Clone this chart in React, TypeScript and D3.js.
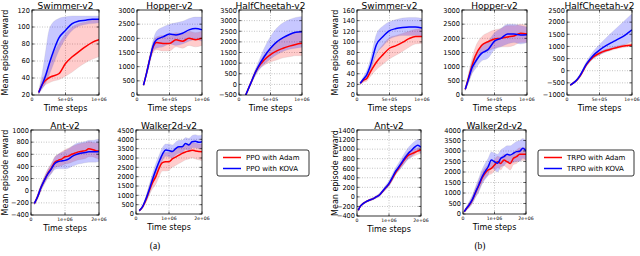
import * as d3 from "d3";
import { useEffect, useRef } from "react";

// ---- x positions (time steps) ----
const topAX = [100e3, 150e3, 200e3, 250e3, 300e3, 400e3, 500e3, 600e3, 700e3, 800e3, 900e3, 1000e3];
const topBX = [50e3, 100e3, 150e3, 200e3, 300e3, 400e3, 500e3, 600e3, 700e3, 800e3, 900e3, 1000e3];
const botAX = [100e3, 200e3, 300e3, 400e3, 500e3, 600e3, 700e3, 800e3, 900e3, 1000e3, 1100e3, 1200e3, 1300e3, 1400e3, 1500e3, 1600e3, 1700e3, 1800e3, 1900e3, 2000e3];
const botBX = [40e3, 100e3, 200e3, 300e3, 400e3, 500e3, 600e3, 700e3, 800e3, 900e3, 1000e3, 1100e3, 1200e3, 1300e3, 1400e3, 1500e3, 1600e3, 1700e3, 1800e3, 1900e3, 2000e3];

// ---- tick labels ----
const xTicks1M = [0, 5e5, 1e6];
const xTicks1MLabels = ["0", "5e+05", "1e+06"];
const xTicks2M = [0, 1e6, 2e6];
const xTicks2MLabels = ["0", "1e+06", "2e+06"];

// ---- (a) PPO ----
const swimmerA_adam = [23, 32, 37, 40, 42, 45, 57, 65, 71, 77, 82, 85];
const swimmerA_adamLo = [21, 28, 32, 34, 36, 38, 42, 47, 53, 58, 62, 65];
const swimmerA_adamHi = [25, 37, 45, 55, 65, 80, 92, 100, 104, 106, 108, 109];
const swimmerA_kova = [23, 32, 42, 55, 67, 87, 96, 104, 107, 108, 109, 109];
const swimmerA_kovaLo = [21, 27, 33, 42, 52, 72, 86, 96, 101, 103, 104, 105];
const swimmerA_kovaHi = [25, 45, 70, 95, 104, 110, 112, 113, 113, 113, 113, 113];
const swimmerA_yTicks = [20, 40, 60, 80, 100, 120];

const hopperA_adam = [350, 800, 1300, 1700, 1850, 1820, 1820, 1950, 1900, 2000, 1950, 2000];
const hopperA_adamLo = [320, 720, 1200, 1500, 1600, 1550, 1550, 1700, 1650, 1750, 1700, 1750];
const hopperA_adamHi = [380, 880, 1400, 1850, 2050, 2100, 2100, 2200, 2150, 2250, 2200, 2250];
const hopperA_kova = [350, 800, 1300, 1750, 1950, 2050, 2150, 2120, 2180, 2300, 2350, 2300];
const hopperA_kovaLo = [320, 700, 1150, 1550, 1650, 1700, 1800, 1750, 1800, 1900, 1950, 1900];
const hopperA_kovaHi = [380, 900, 1450, 1950, 2250, 2400, 2500, 2550, 2600, 2700, 2750, 2750];
const hopperA_yTicks = [0, 500, 1000, 1500, 2000, 2500, 3000];

const cheetahA_adam = [-550, -200, 150, 500, 780, 1150, 1400, 1580, 1700, 1800, 1880, 1930];
const cheetahA_adamLo = [-600, -250, 70, 400, 650, 900, 1050, 1150, 1250, 1300, 1350, 1350];
const cheetahA_adamHi = [-500, -150, 230, 600, 900, 1400, 1750, 2000, 2200, 2350, 2450, 2500];
const cheetahA_kova = [-550, -200, 150, 500, 800, 1300, 1700, 2000, 2200, 2350, 2450, 2480];
const cheetahA_kovaLo = [-600, -250, 50, 350, 600, 950, 1200, 1400, 1550, 1650, 1700, 1750];
const cheetahA_kovaHi = [-500, -150, 250, 650, 1000, 1700, 2250, 2650, 2900, 3050, 3150, 3200];
const cheetahA_yTicks = [-500, 0, 500, 1000, 1500, 2000, 2500, 3000, 3500];

const antA_adam = [-210, -90, 60, 180, 290, 370, 470, 500, 520, 560, 570, 600, 620, 640, 650, 660, 690, 680, 660, 650];
const antA_adamLo = [-230, -130, 10, 120, 220, 290, 380, 400, 410, 440, 450, 470, 490, 510, 520, 530, 560, 560, 540, 520];
const antA_adamHi = [-190, -50, 110, 240, 360, 450, 560, 600, 640, 680, 700, 730, 750, 770, 780, 790, 810, 800, 790, 790];
const antA_kova = [-210, -90, 60, 180, 280, 360, 450, 480, 490, 500, 520, 560, 590, 610, 620, 630, 640, 640, 640, 645];
const antA_kovaLo = [-230, -130, 10, 120, 210, 280, 350, 360, 360, 360, 370, 400, 420, 440, 450, 460, 470, 470, 470, 480];
const antA_kovaHi = [-190, -50, 110, 240, 350, 440, 550, 600, 630, 660, 690, 730, 770, 790, 800, 810, 830, 830, 840, 850];
const antA_yTicks = [-400, -200, 0, 200, 400, 600, 800, 1000];

const walkerA_adam = [180, 380, 750, 1250, 1680, 2000, 2450, 2750, 2800, 2800, 2950, 3050, 3150, 3250, 3320, 3370, 3420, 3380, 3350, 3340];
const walkerA_adamLo = [140, 300, 600, 1000, 1350, 1600, 2000, 2300, 2300, 2350, 2500, 2600, 2700, 2800, 2900, 2950, 3000, 2950, 2900, 2850];
const walkerA_adamHi = [220, 460, 900, 1500, 2000, 2400, 2900, 3200, 3300, 3300, 3400, 3500, 3600, 3650, 3700, 3750, 3800, 3800, 3750, 3750];
const walkerA_kova = [180, 400, 800, 1300, 1850, 2350, 2800, 3200, 3430, 3400, 3350, 3500, 3600, 3600, 3780, 3700, 3870, 3900, 3840, 3870];
const walkerA_kovaLo = [140, 330, 650, 1050, 1550, 2000, 2450, 2850, 3100, 3050, 3000, 3150, 3250, 3250, 3450, 3350, 3550, 3550, 3500, 3500];
const walkerA_kovaHi = [220, 480, 950, 1550, 2150, 2700, 3150, 3550, 3750, 3750, 3700, 3850, 3950, 3950, 4100, 4050, 4200, 4250, 4200, 4250];
const walkerA_yTicks = [0, 500, 1000, 1500, 2000, 2500, 3000, 3500, 4000, 4500];

// ---- (b) TRPO ----
const swimmerB_adam = [22, 28, 31, 42, 62, 76, 88, 93, 99, 106, 110, 110];
const swimmerB_adamLo = [20, 24, 26, 34, 48, 58, 68, 75, 82, 90, 96, 97];
const swimmerB_adamHi = [24, 32, 37, 50, 78, 95, 108, 112, 116, 120, 124, 125];
const swimmerB_kova = [22, 30, 38, 53, 95, 110, 121, 125, 127, 128, 128, 126];
const swimmerB_kovaLo = [20, 26, 30, 42, 78, 92, 105, 110, 112, 112, 112, 110];
const swimmerB_kovaHi = [24, 35, 46, 65, 115, 130, 138, 142, 145, 146, 146, 144];
const swimmerB_yTicks = [0, 20, 40, 60, 80, 100, 120, 140, 160];

const hopperB_adam = [200, 600, 1000, 1350, 1750, 1880, 1980, 2000, 2050, 2080, 2180, 2150];
const hopperB_adamLo = [160, 450, 750, 1050, 1450, 1550, 1650, 1700, 1700, 1750, 1850, 1850];
const hopperB_adamHi = [240, 750, 1250, 1650, 2050, 2200, 2300, 2350, 2450, 2450, 2500, 2450];
const hopperB_kova = [200, 560, 940, 1150, 1470, 1600, 1900, 2000, 2150, 2150, 2120, 2130];
const hopperB_kovaLo = [160, 420, 730, 900, 1200, 1300, 1600, 1700, 1800, 1850, 1800, 1850];
const hopperB_kovaHi = [240, 700, 1150, 1400, 1750, 1900, 2200, 2350, 2500, 2500, 2450, 2400];
const hopperB_yTicks = [0, 500, 1000, 1500, 2000, 2500, 3000];

const cheetahB_adam = [-590, -500, -390, -220, 250, 560, 720, 830, 910, 980, 1030, 1060];
const cheetahB_adamLo = [-620, -540, -440, -280, 190, 500, 660, 770, 850, 920, 970, 1000];
const cheetahB_adamHi = [-560, -460, -340, -160, 310, 620, 780, 890, 970, 1040, 1090, 1120];
const cheetahB_kova = [-590, -500, -380, -200, 280, 620, 850, 1030, 1180, 1320, 1480, 1680];
const cheetahB_kovaLo = [-620, -540, -430, -270, 180, 480, 650, 780, 880, 980, 1080, 1200];
const cheetahB_kovaHi = [-560, -460, -330, -130, 380, 780, 1080, 1350, 1600, 1850, 2100, 2350];
const cheetahB_yTicks = [-1000, -500, 0, 500, 1000, 1500, 2000, 2500];

const antB_adam = [-280, -200, -135, -95, -65, -40, 0, 40, 115, 190, 270, 380, 500, 600, 700, 790, 870, 900, 930, 960, 980];
const antB_adamLo = [-300, -215, -150, -110, -80, -55, -15, 25, 95, 165, 240, 340, 460, 550, 640, 720, 800, 830, 860, 890, 910];
const antB_adamHi = [-260, -185, -120, -80, -50, -25, 15, 55, 135, 215, 300, 420, 540, 650, 760, 860, 940, 970, 1000, 1030, 1050];
const antB_kova = [-280, -200, -135, -95, -65, -40, 0, 40, 120, 200, 280, 400, 530, 620, 720, 820, 910, 970, 1040, 1080, 1040];
const antB_kovaLo = [-300, -220, -155, -115, -85, -65, -30, 5, 80, 150, 220, 330, 460, 540, 620, 710, 790, 840, 900, 950, 910];
const antB_kovaHi = [-260, -180, -115, -75, -45, -15, 30, 75, 160, 250, 340, 470, 600, 710, 820, 930, 1030, 1100, 1160, 1200, 1170];
const antB_yTicks = [-400, -200, 0, 200, 400, 600, 800, 1000, 1200, 1400];

const walkerB_adam = [110, 240, 430, 680, 1030, 1350, 1700, 1940, 2100, 2170, 2330, 2490, 2410, 2570, 2490, 2410, 2650, 2730, 2840, 2840, 2840];
const walkerB_adamLo = [70, 170, 320, 520, 820, 1100, 1450, 1700, 1850, 1900, 2050, 2200, 2100, 2300, 2200, 2100, 2350, 2400, 2550, 2550, 2550];
const walkerB_adamHi = [150, 310, 550, 850, 1250, 1600, 1950, 2200, 2350, 2450, 2600, 2750, 2700, 2850, 2800, 2750, 2950, 3050, 3150, 3150, 3150];
const walkerB_kova = [110, 250, 450, 700, 1050, 1380, 1750, 2020, 2250, 2570, 2490, 2420, 2650, 2730, 2840, 2810, 2890, 2970, 2990, 3130, 3000];
const walkerB_kovaLo = [70, 170, 300, 500, 800, 1050, 1400, 1650, 1850, 2200, 2100, 2000, 2250, 2300, 2450, 2400, 2450, 2500, 2500, 2650, 2550];
const walkerB_kovaHi = [150, 330, 600, 900, 1300, 1700, 2100, 2400, 2650, 2950, 2900, 2850, 3050, 3150, 3250, 3250, 3350, 3450, 3500, 3600, 3500];
const walkerB_yTicks = [0, 500, 1000, 1500, 2000, 2500, 3000, 3500, 4000];

const legendA = ["PPO with Adam", "PPO with KOVA"];
const legendB = ["TRPO with Adam", "TRPO with KOVA"];

const RED = "#ff0000";
const BLUE = "#0000ff";
const FONT = "DejaVu Sans, sans-serif";

type Series = { mean: number[]; lo: number[]; hi: number[] };
type Panel = {
  title: string;
  xs: number[];
  xTicks: number[];
  xLabels: string[];
  yTicks: number[];
  adam: Series;
  kova: Series;
  box: [number, number, number, number]; // x0, x1, y0, y1
  yLabel?: number;
};

const s = (mean: number[], lo: number[], hi: number[]): Series => ({ mean, lo, hi });

const panels: Panel[] = [
  { title: "Swimmer-v2", xs: topAX, xTicks: xTicks1M, xLabels: xTicks1MLabels, yTicks: swimmerA_yTicks,
    adam: s(swimmerA_adam, swimmerA_adamLo, swimmerA_adamHi), kova: s(swimmerA_kova, swimmerA_kovaLo, swimmerA_kovaHi),
    box: [32, 99, 10, 95], yLabel: 5 },
  { title: "Hopper-v2", xs: topAX, xTicks: xTicks1M, xLabels: xTicks1MLabels, yTicks: hopperA_yTicks,
    adam: s(hopperA_adam, hopperA_adamLo, hopperA_adamHi), kova: s(hopperA_kova, hopperA_kovaLo, hopperA_kovaHi),
    box: [137, 202, 10, 95] },
  { title: "HalfCheetah-v2", xs: topAX, xTicks: xTicks1M, xLabels: xTicks1MLabels, yTicks: cheetahA_yTicks,
    adam: s(cheetahA_adam, cheetahA_adamLo, cheetahA_adamHi), kova: s(cheetahA_kova, cheetahA_kovaLo, cheetahA_kovaHi),
    box: [239, 302, 10, 95] },
  { title: "Ant-v2", xs: botAX, xTicks: xTicks2M, xLabels: xTicks2MLabels, yTicks: antA_yTicks,
    adam: s(antA_adam, antA_adamLo, antA_adamHi), kova: s(antA_kova, antA_kovaLo, antA_kovaHi),
    box: [31, 99, 130, 215], yLabel: 5 },
  { title: "Walker2d-v2", xs: botAX, xTicks: xTicks2M, xLabels: xTicks2MLabels, yTicks: walkerA_yTicks,
    adam: s(walkerA_adam, walkerA_adamLo, walkerA_adamHi), kova: s(walkerA_kova, walkerA_kovaLo, walkerA_kovaHi),
    box: [136, 202, 130, 214] },
  { title: "Swimmer-v2", xs: topBX, xTicks: xTicks1M, xLabels: xTicks1MLabels, yTicks: swimmerB_yTicks,
    adam: s(swimmerB_adam, swimmerB_adamLo, swimmerB_adamHi), kova: s(swimmerB_kova, swimmerB_kovaLo, swimmerB_kovaHi),
    box: [357, 422, 10, 95], yLabel: 335 },
  { title: "Hopper-v2", xs: topBX, xTicks: xTicks1M, xLabels: xTicks1MLabels, yTicks: hopperB_yTicks,
    adam: s(hopperB_adam, hopperB_adamLo, hopperB_adamHi), kova: s(hopperB_kova, hopperB_kovaLo, hopperB_kovaHi),
    box: [462, 527, 10, 95] },
  { title: "HalfCheetah-v2", xs: topBX, xTicks: xTicks1M, xLabels: xTicks1MLabels, yTicks: cheetahB_yTicks,
    adam: s(cheetahB_adam, cheetahB_adamLo, cheetahB_adamHi), kova: s(cheetahB_kova, cheetahB_kovaLo, cheetahB_kovaHi),
    box: [567, 632, 10, 95] },
  { title: "Ant-v2", xs: botBX, xTicks: xTicks2M, xLabels: xTicks2MLabels, yTicks: antB_yTicks,
    adam: s(antB_adam, antB_adamLo, antB_adamHi), kova: s(antB_kova, antB_kovaLo, antB_kovaHi),
    box: [357, 421, 130, 216], yLabel: 335 },
  { title: "Walker2d-v2", xs: botBX, xTicks: xTicks2M, xLabels: xTicks2MLabels, yTicks: walkerB_yTicks,
    adam: s(walkerB_adam, walkerB_adamLo, walkerB_adamHi), kova: s(walkerB_kova, walkerB_kovaLo, walkerB_kovaHi),
    box: [463, 526, 130, 214] },
];

const fmt = (v: number) => (v < 0 ? "\u2212" + Math.abs(v) : String(v));

export default function App() {
  const ref = useRef<SVGSVGElement>(null);

  useEffect(() => {
    const svg = d3.select(ref.current);
    svg.selectAll("*").remove();
    svg.append("rect").attr("width", 640).attr("height", 256).attr("fill", "#fff");

    panels.forEach((p, pi) => {
      const [x0, x1, y0, y1] = p.box;
      const x = d3.scaleLinear().domain([p.xTicks[0], p.xTicks[p.xTicks.length - 1]]).range([x0, x1]);
      const y = d3.scaleLinear().domain([p.yTicks[0], p.yTicks[p.yTicks.length - 1]]).range([y1, y0]);
      const g = svg.append("g");

      const clipId = `clip-${pi}`;
      g.append("clipPath").attr("id", clipId)
        .append("rect").attr("x", x0).attr("y", y0).attr("width", x1 - x0).attr("height", y1 - y0);

      // grid
      const grid = g.append("g").attr("stroke", "#888").attr("stroke-width", 0.5).attr("stroke-dasharray", "1,1.5");
      p.xTicks.slice(1, -1).forEach((t) => {
        grid.append("line").attr("x1", x(t)).attr("x2", x(t)).attr("y1", y0).attr("y2", y1);
      });
      p.yTicks.slice(1, -1).forEach((t) => {
        grid.append("line").attr("x1", x0).attr("x2", x1).attr("y1", y(t)).attr("y2", y(t));
      });

      const plot = g.append("g").attr("clip-path", `url(#${clipId})`);
      const band = (se: Series) =>
        d3.area<number>().x((_, i) => x(p.xs[i])).y0((_, i) => y(se.lo[i])).y1((_, i) => y(se.hi[i]))
          .curve(d3.curveMonotoneX)(se.mean);
      const line = (se: Series) =>
        d3.line<number>().x((_, i) => x(p.xs[i])).y((d) => y(d)).curve(d3.curveMonotoneX)(se.mean);

      plot.append("path").attr("d", band(p.adam)).attr("fill", RED).attr("fill-opacity", 0.2)
        .attr("stroke", "#999").attr("stroke-opacity", 0.25).attr("stroke-width", 0.6);
      plot.append("path").attr("d", band(p.kova)).attr("fill", BLUE).attr("fill-opacity", 0.22)
        .attr("stroke", "#999").attr("stroke-opacity", 0.25).attr("stroke-width", 0.6);
      plot.append("path").attr("d", line(p.adam)).attr("fill", "none").attr("stroke", RED).attr("stroke-width", 1.5);
      plot.append("path").attr("d", line(p.kova)).attr("fill", "none").attr("stroke", BLUE).attr("stroke-width", 1.5);

      // inward ticks on all four sides
      const ticks = g.append("g").attr("stroke", "#000").attr("stroke-width", 0.6);
      p.yTicks.forEach((t) => {
        ticks.append("line").attr("x1", x0).attr("x2", x0 + 2.5).attr("y1", y(t)).attr("y2", y(t));
        ticks.append("line").attr("x1", x1).attr("x2", x1 - 2.5).attr("y1", y(t)).attr("y2", y(t));
      });
      p.xTicks.forEach((t) => {
        ticks.append("line").attr("x1", x(t)).attr("x2", x(t)).attr("y1", y1).attr("y2", y1 - 2.5);
        ticks.append("line").attr("x1", x(t)).attr("x2", x(t)).attr("y1", y0).attr("y2", y0 + 2.5);
      });

      g.append("rect").attr("x", x0).attr("y", y0).attr("width", x1 - x0).attr("height", y1 - y0)
        .attr("fill", "none").attr("stroke", "#000").attr("stroke-width", 0.8);

      // tick labels
      p.yTicks.forEach((t, i) => {
        const last = i === p.yTicks.length - 1;
        g.append("text").attr("x", x0 - 2).attr("y", y(t) + (last ? 1 : 0)).attr("dy", "0.35em")
          .attr("text-anchor", "end").attr("font-family", FONT).attr("font-size", 6.6).text(fmt(t));
      });
      p.xTicks.forEach((t, i) => {
        g.append("text").attr("x", x(t)).attr("y", y1 + 6).attr("text-anchor", "middle")
          .attr("font-family", FONT).attr("font-size", 4.6).text(p.xLabels[i]);
      });

      g.append("text").attr("x", (x0 + x1) / 2).attr("y", y0 - 1.5).attr("text-anchor", "middle")
        .attr("font-family", FONT).attr("font-size", 9).text(p.title);
      g.append("text").attr("x", (x0 + x1) / 2).attr("y", y1 + 16).attr("text-anchor", "middle")
        .attr("font-family", FONT).attr("font-size", 8).text("Time steps");
      if (p.yLabel !== undefined) {
        g.append("text").attr("transform", `translate(${p.yLabel + 3},${(y0 + y1) / 2}) rotate(-90)`)
          .attr("text-anchor", "middle").attr("font-family", FONT).attr("font-size", 8)
          .text("Mean episode reward");
      }
    });

    // legends
    const legends: [string[], number, number, number][] = [
      [legendA, 217, 309, 150],
      [legendB, 538, 634, 150],
    ];
    legends.forEach(([labels, lx0, lx1, ly0]) => {
      const g = svg.append("g");
      g.append("rect").attr("x", lx0).attr("y", ly0).attr("width", lx1 - lx0).attr("height", 26)
        .attr("rx", 2).attr("fill", "#fff").attr("stroke", "#000").attr("stroke-width", 0.8);
      labels.forEach((lab, i) => {
        const ly = ly0 + 7.5 + i * 11;
        g.append("line").attr("x1", lx0 + 6).attr("x2", lx0 + 24).attr("y1", ly).attr("y2", ly)
          .attr("stroke", i === 0 ? RED : BLUE).attr("stroke-width", 1.5);
        g.append("text").attr("x", lx0 + 29).attr("y", ly).attr("dy", "0.35em")
          .attr("font-family", FONT).attr("font-size", 7).text(lab);
      });
    });

    svg.append("text").attr("x", 155).attr("y", 249).attr("text-anchor", "middle")
      .attr("font-family", "Liberation Serif, serif").attr("font-size", 9.5).text("(a)");
    svg.append("text").attr("x", 480).attr("y", 249).attr("text-anchor", "middle")
      .attr("font-family", "Liberation Serif, serif").attr("font-size", 9.5).text("(b)");
  }, []);

  return (
    <svg ref={ref} width={640} height={256}
      style={{ position: "absolute", left: 0, top: 0, display: "block" }} />
  );
}
